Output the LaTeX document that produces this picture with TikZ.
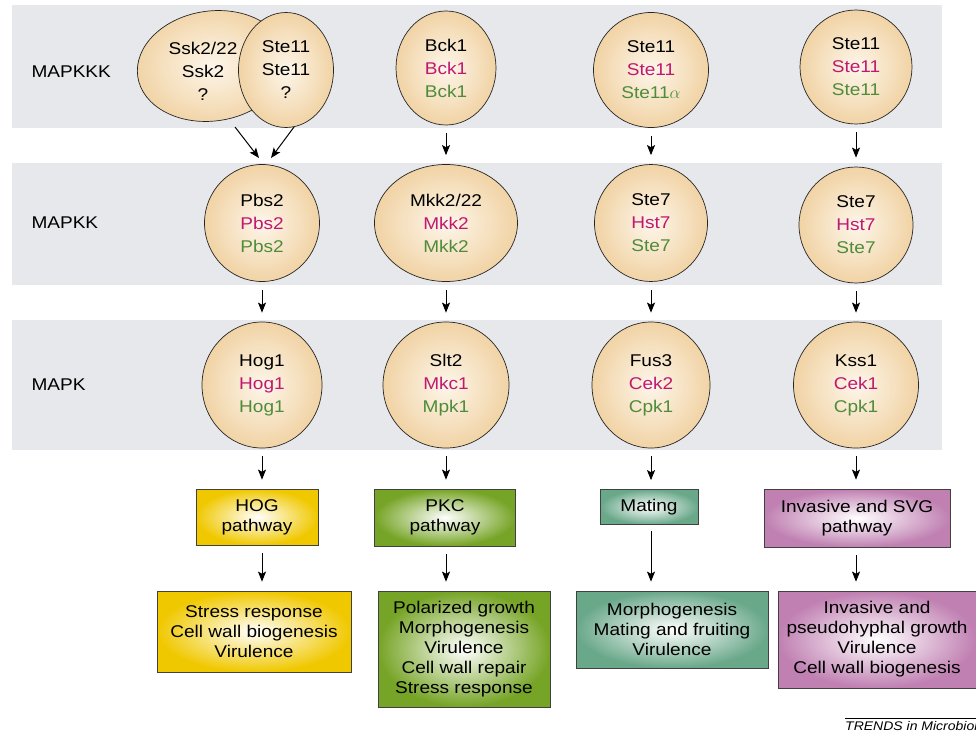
\documentclass[tikz,border=0pt]{standalone}
\usepackage{fontspec}
\setmainfont[FakeStretch=1.12]{Liberation Sans}
\usetikzlibrary{shapes.geometric,arrows.meta}

\definecolor{bandgray}{RGB}{231,232,235}
\definecolor{peach}{RGB}{241,211,165}
\definecolor{peachlight}{RGB}{253,246,234}
\definecolor{kinpink}{RGB}{192,24,112}
\definecolor{kingreen}{RGB}{78,140,58}
\definecolor{hogyellow}{RGB}{240,200,0}
\definecolor{pkcgreen}{RGB}{118,164,38}
\definecolor{mateal}{RGB}{106,168,138}
\definecolor{svgpurple}{RGB}{192,128,178}

\newcommand{\pk}[1]{\textcolor{kinpink}{#1}}
\newcommand{\gr}[1]{\textcolor{kingreen}{#1}}

\begin{document}
\begin{tikzpicture}[x=1pt, y=-1pt, >={Stealth[length=10pt,width=8pt,inset=2pt]},
  kinase/.style={ellipse, draw=black!85, line width=0.7pt, inner sep=0pt,
    inner color=peachlight, outer color=peach, align=center,
    font=\fontsize{17}{23}\selectfont},
  ktext/.style={align=center, font=\fontsize{17}{23}\selectfont},
  outbox/.style={draw=black!75, line width=0.7pt, inner sep=0pt, align=center,
    inner color=white, font=\fontsize{17}{20}\selectfont},
  rowlabel/.style={anchor=west, font=\fontsize{17}{20}\selectfont},
  link/.style={->, line width=1pt, shorten <=8pt, shorten >=9pt}]

  \useasboundingbox (0,0) rectangle (976,733);

  % Grey bands
  \fill[bandgray] (12,5) rectangle (942,128);
  \fill[bandgray] (12,163) rectangle (942,285);
  \fill[bandgray] (12,320) rectangle (942,450);

  % Row labels
  \node[rowlabel] (lkkk) at (28,72) {MAPKKK};
  \node[rowlabel] (lkk) at (28,223) {MAPKK};
  \node[rowlabel] (lk) at (28,385) {MAPK};

  % MAPKKK
  \node[kinase, rotate=8, minimum width=150pt, minimum height=110pt] (ssk) at (212,66) {};
  \node[ktext] (ssk text) at (203,71) {Ssk2/22\\Ssk2\\?};
  \node[kinase, minimum width=95pt, minimum height=115pt] (ste11a) at (286,70)
    {Ste11\\Ste11\\?};
  \node[kinase, minimum width=100pt, minimum height=114pt] (bck1) at (446,68)
    {Bck1\\\pk{Bck1}\\\gr{Bck1}};
  \node[kinase, minimum width=115pt, minimum height=115pt] (ste11b) at (651,70)
    {Ste11\\\pk{Ste11}\\\gr{Ste11$\alpha$}};
  \node[kinase, minimum width=112pt, minimum height=114pt] (ste11c) at (856,67)
    {Ste11\\\pk{Ste11}\\\gr{Ste11}};

  % MAPKK
  \node[kinase, minimum width=115pt, minimum height=117pt] (pbs2) at (262,223)
    {Pbs2\\\pk{Pbs2}\\\gr{Pbs2}};
  \node[kinase, minimum width=143pt, minimum height=117pt] (mkk2) at (446,223)
    {Mkk2/22\\\pk{Mkk2}\\\gr{Mkk2}};
  \node[kinase, minimum width=113pt, minimum height=117pt] (ste7a) at (651,223)
    {Ste7\\\pk{Hst7}\\\gr{Ste7}};
  \node[kinase, minimum width=114pt, minimum height=116pt] (ste7b) at (856,225)
    {Ste7\\\pk{Hst7}\\\gr{Ste7}};

  % MAPK
  \node[kinase, minimum width=120pt, minimum height=126pt] (hog1) at (262,385)
    {Hog1\\\pk{Hog1}\\\gr{Hog1}};
  \node[kinase, minimum width=126pt, minimum height=126pt] (slt2) at (446,385)
    {Slt2\\\pk{Mkc1}\\\gr{Mpk1}};
  \node[kinase, minimum width=118pt, minimum height=126pt] (fus3) at (651,385)
    {Fus3\\\pk{Cek2}\\\gr{Cpk1}};
  \node[kinase, minimum width=125pt, minimum height=126pt] (kss1) at (856,385)
    {Kss1\\\pk{Cek1}\\\gr{Cpk1}};

  % Pathways
  \node[outbox, outer color=hogyellow, minimum width=122pt, minimum height=56pt]
    (hog) at (257,517) {HOG\\pathway};
  \node[outbox, outer color=pkcgreen, minimum width=141pt, minimum height=57pt]
    (pkc) at (445,517.5) {PKC\\pathway};
  \node[outbox, outer color=mateal, minimum width=98pt, minimum height=35pt]
    (mating) at (649,507) {Mating};
  \node[outbox, outer color=svgpurple, minimum width=186pt, minimum height=58pt]
    (svg) at (857,518) {Invasive and SVG\\pathway};

  % Outputs
  \node[outbox, outer color=hogyellow, minimum width=194pt, minimum height=81pt]
    (stress) at (254,631.5) {Stress response\\Cell wall biogenesis\\Virulence};
  \node[outbox, outer color=pkcgreen, minimum width=172pt, minimum height=116pt]
    (polar) at (464,649) {Polarized growth\\Morphogenesis\\Virulence\\Cell wall repair\\Stress response};
  \node[outbox, outer color=mateal, minimum width=192pt, minimum height=77pt]
    (morph) at (672,629.5) {Morphogenesis\\Mating and fruiting\\Virulence};
  \node[outbox, outer color=svgpurple, minimum width=198pt, minimum height=97pt]
    (invasive) at (877,639.5) {Invasive and\\pseudohyphal growth\\Virulence\\Cell wall biogenesis};

  % Arrows, MAPKKK -> MAPKK
  \coordinate (ssk out) at (235,127);
  \coordinate (ste11a out) at (294,127);
  \coordinate (pbs2 in l) at (259,158);
  \coordinate (pbs2 in r) at (271,158);
  \draw[->, line width=1pt] (ssk out) -- (pbs2 in l);
  \draw[->, line width=1pt] (ste11a out) -- (pbs2 in r);
  \draw[link] (bck1) -- (mkk2);
  \draw[link] (ste11b) -- (ste7a);
  \draw[link] (ste11c) -- (ste7b);

  % MAPKK -> MAPK
  \draw[link] (pbs2) -- (hog1);
  \draw[link] (mkk2) -- (slt2);
  \draw[link] (ste7a) -- (fus3);
  \draw[link] (ste7b) -- (kss1);

  % MAPK -> pathway -> output
  \draw[link] (hog1) -- (hog1 |- hog.north);
  \draw[link] (slt2) -- (slt2 |- pkc.north);
  \draw[link] (fus3) -- (fus3 |- mating.north);
  \draw[link] (kss1) -- (kss1 |- svg.north);
  \draw[link] (hog1 |- hog.south) -- (hog1 |- stress.north);
  \draw[link] (slt2 |- pkc.south) -- (slt2 |- polar.north);
  \draw[link, shorten <=6pt] (fus3 |- mating.south) -- (fus3 |- morph.north);
  \draw[link] (kss1 |- svg.south) -- (kss1 |- invasive.north);

  % Credit
  \node[anchor=base west, inner sep=0pt, font=\fontsize{12.5}{14}\selectfont\itshape]
    (trends) at (845,730) {TRENDS in Microbiol};
  \draw[line width=0.6pt] ([yshift=2pt]trends.north west) -- ([yshift=2pt]trends.north east);
\end{tikzpicture}
\end{document}
